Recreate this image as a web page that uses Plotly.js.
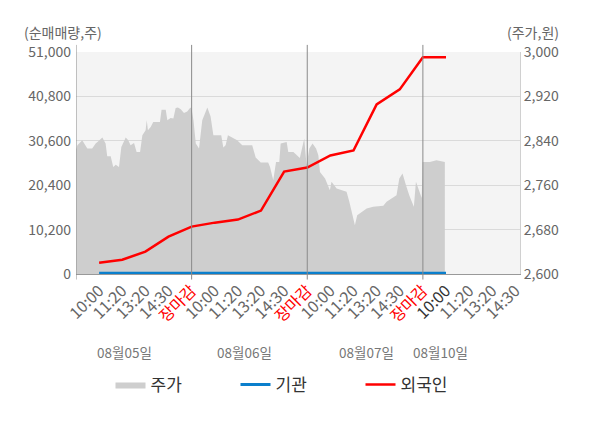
<!DOCTYPE html>
<html>
<head>
<meta charset="utf-8">
<script src="https://cdn.plot.ly/plotly-3.0.1.min.js"></script>
<style>
  body { margin: 0; background: #fff; }
  #chart { width: 600px; height: 428px; }
</style>
</head>
<body>
<div id="chart"></div>
<script>
// 주가 (원) - 시간 위치(눈금 단위)와 가격
const priceTimes = [
  0, 0.06, 0.27, 0.49, 0.70, 0.85, 0.99, 1.14, 1.28, 1.35, 1.50, 1.61, 1.72, 1.86, 1.96, 2.08, 2.15, 2.26, 2.36, 2.51,
  2.62, 2.77, 2.87, 3.01, 3.06, 3.11, 3.23, 3.34, 3.63, 3.70, 3.88, 3.95, 4.09, 4.21, 4.31, 4.41, 4.53, 4.67, 4.81, 4.93,
  4.99, 5.08, 5.18, 5.32, 5.46, 5.68, 5.82, 5.94, 6.28, 6.37, 6.47, 6.57, 6.76, 6.97, 7.19, 7.62, 7.77, 7.99, 8.31, 8.39,
  8.53, 8.65, 8.79, 8.85, 9.11, 9.18, 9.40, 9.54, 9.68, 9.87, 9.97, 10.09, 10.23, 10.38, 10.48, 10.55, 10.77, 10.98, 11.05, 11.27,
  11.70, 11.82, 11.92, 12.06, 12.16, 12.57, 12.85, 13.29, 13.43, 13.65, 13.86, 13.98, 14.12, 14.27, 14.41, 14.61, 14.70, 14.95, 14.99, 15.30,
  15.59, 15.95
];
const priceValues = [
  2824, 2832, 2841, 2826, 2826, 2835, 2840, 2846, 2835, 2812, 2812, 2793, 2797, 2793, 2829, 2841, 2846, 2841, 2832, 2836,
  2820, 2820, 2850, 2859, 2877, 2859, 2865, 2874, 2874, 2896, 2896, 2877, 2881, 2880, 2899, 2900, 2897, 2890, 2893, 2899,
  2900, 2877, 2835, 2826, 2877, 2900, 2884, 2850, 2850, 2828, 2832, 2850, 2846, 2841, 2832, 2832, 2810, 2801, 2801, 2793,
  2769, 2802, 2802, 2835, 2838, 2820, 2820, 2815, 2809, 2844, 2796, 2826, 2835, 2826, 2814, 2784, 2772, 2751, 2766, 2754,
  2748, 2730, 2712, 2688, 2706, 2718, 2721, 2723, 2730, 2736, 2742, 2772, 2781, 2760, 2742, 2721, 2766, 2737, 2802, 2802,
  2805, 2802
];

// 순매매량 (주) - 각 시간 눈금마다
const flowSlots = [1, 2, 3, 4, 5, 6, 7, 8, 9, 10, 11, 12, 13, 14, 15, 16];
const foreignValues = [2600, 3290, 5130, 8580, 10880, 11800, 12500, 14570, 23540, 24460, 27220, 28370, 38960, 42410, 49770, 49770];
const institutionValues = [150, 150, 150, 150, 150, 150, 150, 150, 150, 150, 150, 150, 150, 150, 150, 150];

// x축 눈금
const tickSlots = [1, 2, 3, 4, 5, 6, 7, 8, 9, 10, 11, 12, 13, 14, 15, 16, 17, 18, 19];
const tickLabels = ['10:00', '11:20', '13:20', '14:30', '장마감', '10:00', '11:20', '13:20', '14:30', '장마감',
  '10:00', '11:20', '13:20', '14:30', '장마감', '10:00', '11:20', '13:20', '14:30'];
const dayBreaks = [5, 10, 15];
const dayLabels = ['08월05일', '08월06일', '08월07일', '08월10일'];
const dayLabelPos = [2.1, 7.3, 12.55, 15.75];

const leftTicks = [0, 10200, 20400, 30600, 40800, 51000];
const rightTicks = [2600, 2680, 2760, 2840, 2920, 3000];

const FONT = '"Noto Sans CJK KR", "Noto Sans", sans-serif';

const tickText = tickLabels.map(function(t, i) {
  if (t === '장마감') return '<span style="color:#ff0000">' + t + '</span>';
  if (i === 15) return '<span style="color:#333333">' + t + '</span>';
  return t;
});

const fmt = v => v.toLocaleString('en-US');

const traces = [
  {
    name: '주가',
    x: priceTimes,
    y: priceValues,
    yaxis: 'y',
    type: 'scatter',
    mode: 'lines',
    fill: 'tozeroy',
    fillcolor: '#cecece',
    line: { width: 0, color: '#cecece' }
  },
  {
    name: '기관',
    x: flowSlots,
    y: institutionValues,
    yaxis: 'y2',
    type: 'scatter',
    mode: 'lines',
    line: { color: '#0b7fcc', width: 3 }
  },
  {
    name: '외국인',
    x: flowSlots,
    y: foreignValues,
    yaxis: 'y2',
    type: 'scatter',
    mode: 'lines',
    line: { color: '#ff0000', width: 2.5 }
  }
];

const shapes = dayBreaks.concat([0]).map(x => ({
  type: 'line', xref: 'x', yref: 'paper',
  x0: x, x1: x, y0: -0.025, y1: 1.032,
  line: { color: '#8a8a8a', width: 1 }
}));

const annotations = dayLabels.map((t, i) => ({
  text: t, xref: 'x', yref: 'paper', x: dayLabelPos[i], y: -0.35,
  showarrow: false, xanchor: 'center', yanchor: 'middle',
  font: { family: FONT, size: 13.5, color: '#777' }
}));
annotations.push({
  text: '(순매매량,주)', xref: 'paper', yref: 'paper', x: -0.122, y: 1.09,
  showarrow: false, xanchor: 'left', yanchor: 'middle',
  font: { family: FONT, size: 14, color: '#666' }
});
annotations.push({
  text: '(주가,원)', xref: 'paper', yref: 'paper', x: 1.093, y: 1.09,
  showarrow: false, xanchor: 'right', yanchor: 'middle',
  font: { family: FONT, size: 14, color: '#666' }
});

const layout = {
  width: 600,
  height: 428,
  margin: { l: 76, r: 80, t: 52, b: 154 },
  paper_bgcolor: '#ffffff',
  plot_bgcolor: '#f4f4f4',
  font: { family: FONT, color: '#666' },
  showlegend: true,
  legend: {
    orientation: 'h',
    x: 0.5, xanchor: 'center',
    y: -0.5, yanchor: 'middle',
    font: { family: FONT, size: 17, color: '#333' },
    entrywidth: 80,
    traceorder: 'normal'
  },
  xaxis: {
    range: [0, 19.2],
    tickmode: 'array',
    tickvals: tickSlots,
    ticktext: tickText,
    tickangle: -45,
    tickfont: { family: FONT, size: 16, color: '#666' },
    showgrid: false,
    zeroline: false,
    showline: true,
    linecolor: '#999',
    ticks: ''
  },
  // 주가 축 (오른쪽)
  yaxis: {
    side: 'right',
    range: [2600, 3000],
    tickmode: 'array',
    tickvals: rightTicks,
    ticktext: rightTicks.map(fmt),
    tickfont: { family: FONT, size: 14, color: '#666' },
    gridcolor: '#dadada',
    zeroline: false,
    showline: true,
    linecolor: '#d0d0d0'
  },
  // 순매매량 축 (왼쪽)
  yaxis2: {
    overlaying: 'y',
    side: 'left',
    range: [0, 51000],
    tickmode: 'array',
    tickvals: leftTicks,
    ticktext: leftTicks.map(fmt),
    tickfont: { family: FONT, size: 14, color: '#666' },
    showgrid: false,
    zeroline: false,
    showline: false,
    ticklabelstandoff: 4
  },
  shapes: shapes,
  annotations: annotations
};

Plotly.newPlot('chart', traces, layout, { displayModeBar: false, staticPlot: true });
</script>
</body>
</html>
